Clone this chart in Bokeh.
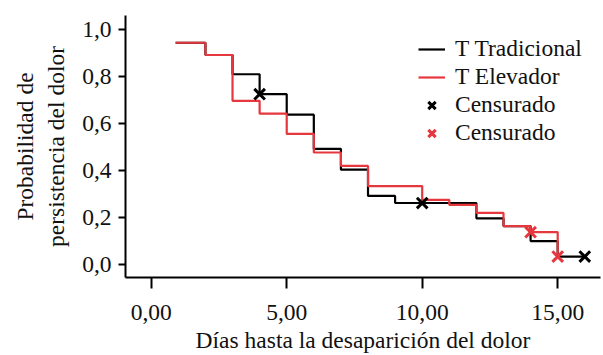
from bokeh.plotting import figure
from bokeh.models import Range1d, FixedTicker, CustomJSTickFormatter, Legend, LegendItem
from bokeh.embed import file_html
from bokeh.resources import INLINE

# Data (Kaplan-Meier steps)
trad_times = [0.9, 2, 3, 4, 5, 6, 7, 8, 9, 12, 13, 14, 15, 16]
trad_surv = [0.944, 0.892, 0.81, 0.725, 0.638, 0.492, 0.404, 0.292, 0.262, 0.197, 0.164, 0.100, 0.034, 0.034]
elev_times = [0.9, 2, 3, 4, 5, 6, 7, 8, 10, 11, 12, 13, 14, 15]
elev_surv = [0.944, 0.892, 0.697, 0.642, 0.556, 0.477, 0.420, 0.334, 0.275, 0.254, 0.220, 0.164, 0.138, 0.034]
trad_cens_t = [4, 10, 16]
trad_cens_s = [0.725, 0.262, 0.034]
elev_cens_t = [14, 15]
elev_cens_s = [0.138, 0.034]
x_ticks = [0, 5, 10, 15]
y_ticks = [0.0, 0.2, 0.4, 0.6, 0.8, 1.0]

FONT = "Liberation Serif"
FS = "23.5px"
RED = "#e6363e"
BLACK = "#000000"
TXT = "#111111"

p = figure(width=603, height=355,
           x_range=Range1d(-0.95, 16.58), y_range=Range1d(-0.055, 1.06),
           output_backend="svg", toolbar_location=None,
           min_border_left=125, min_border_right=3, min_border_top=15, min_border_bottom=78)
p.outline_line_color = None
p.xgrid.visible = False
p.ygrid.visible = False

r_black = p.step(x=trad_times, y=trad_surv, mode="after", line_color=BLACK, line_width=2.2)
r_red = p.step(x=elev_times, y=elev_surv, mode="after", line_color=RED, line_width=2.2)
m_black = p.scatter(x=trad_cens_t, y=trad_cens_s, marker="x", size=15, line_color=BLACK, line_width=3)
m_red = p.scatter(x=elev_cens_t, y=elev_cens_s, marker="x", size=15, line_color=RED, line_width=3)

for ax in (p.xaxis[0], p.yaxis[0]):
    ax.axis_line_width = 2
    ax.major_tick_line_width = 2
    ax.minor_tick_line_color = None
    ax.major_tick_in = 0
    ax.major_label_text_font = FONT
    ax.major_label_text_font_size = FS
    ax.major_label_text_color = TXT
    ax.axis_label_text_font = FONT
    ax.axis_label_text_font_size = FS
    ax.axis_label_text_font_style = "normal"
    ax.axis_label_text_color = TXT

p.xaxis.ticker = FixedTicker(ticks=x_ticks)
p.xaxis.formatter = CustomJSTickFormatter(code="return tick.toFixed(2).replace('.', ',');")
p.xaxis.major_tick_out = 11
p.xaxis.major_label_standoff = 16
p.xaxis.axis_label = "Días hasta la desaparición del dolor"
p.xaxis.axis_label_standoff = 4

p.yaxis.ticker = FixedTicker(ticks=y_ticks)
p.yaxis.formatter = CustomJSTickFormatter(code="return tick.toFixed(1).replace('.', ',');")
p.yaxis.major_tick_out = 7
p.yaxis.major_label_standoff = 7
p.yaxis.axis_label = "Probabilidad de\npersistencia del dolor"
p.yaxis.axis_label_standoff = 10

legend = Legend(items=[
    LegendItem(label="T Tradicional", renderers=[r_black]),
    LegendItem(label="T Elevador", renderers=[r_red]),
    LegendItem(label="Censurado", renderers=[m_black]),
    LegendItem(label="Censurado", renderers=[m_red]),
], location=(293, 131))
legend.padding = 0
legend.margin = 0
legend.border_line_color = None
legend.background_fill_alpha = 0
legend.glyph_width = 27
legend.glyph_height = 26
legend.label_height = 26
legend.label_standoff = 10
legend.spacing = 1
legend.label_text_font = FONT
legend.label_text_font_size = FS
legend.label_text_color = TXT
p.add_layout(legend)

open("out.html", "w").write(file_html(p, INLINE))
